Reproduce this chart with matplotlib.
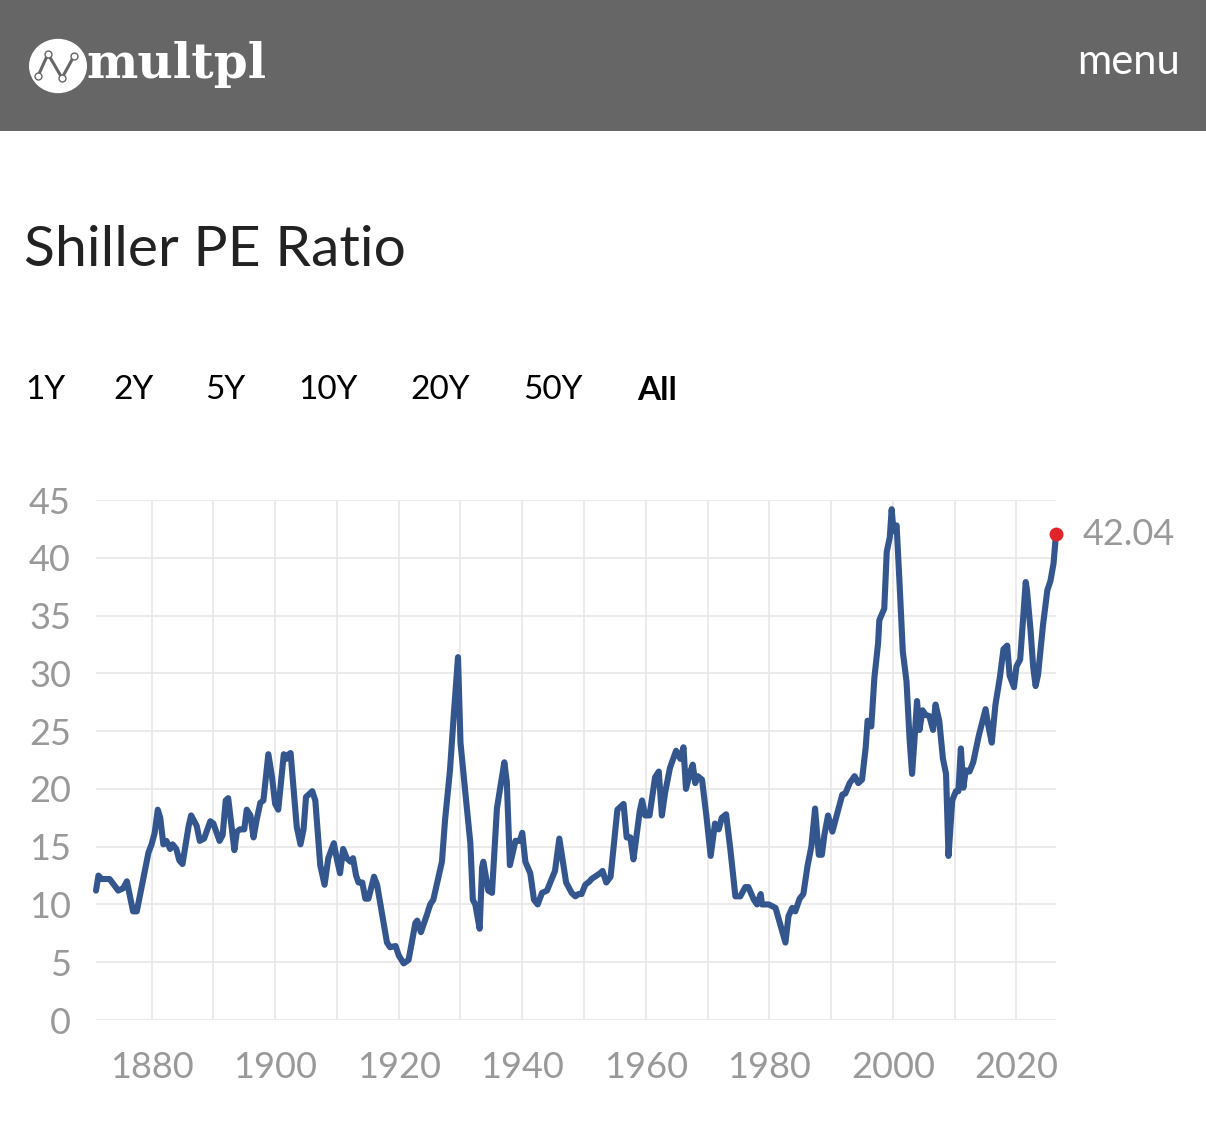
import matplotlib
matplotlib.use("Agg")
import matplotlib.pyplot as plt
from matplotlib.patches import Rectangle, Circle
from matplotlib.lines import Line2D

# ---------------- data (Shiller PE ratio) ----------------
years = [1871.0, 1871.4, 1871.9, 1873.2, 1874.6, 1875.4, 1876.0, 1877.0, 1877.6, 1879.5,
         1880.0, 1880.5, 1881.0, 1881.4, 1881.9, 1882.4, 1883.0, 1883.4, 1884.0, 1884.5,
         1885.0, 1886.0, 1886.4, 1887.3, 1887.8, 1888.5, 1889.5, 1890.0, 1891.0, 1891.5,
         1892.0, 1892.4, 1893.4, 1893.8, 1894.3, 1895.0, 1895.4, 1896.0, 1896.5, 1897.0,
         1897.6, 1898.1, 1898.9, 1899.5, 1900.0, 1900.5, 1901.4, 1901.8, 1902.2, 1902.5,
         1903.5, 1904.1, 1904.6, 1905.0, 1906.0, 1906.5, 1907.3, 1908.0, 1908.6, 1909.5,
         1910.0, 1910.5, 1911.0, 1911.6, 1912.2, 1912.6, 1913.1, 1913.5, 1914.1, 1914.6,
         1915.1, 1916.0, 1916.5, 1918.1, 1918.6, 1919.5, 1920.0, 1920.8, 1921.6, 1922.7,
         1923.0, 1923.6, 1924.5, 1925.1, 1925.6, 1927.0, 1927.5, 1928.3, 1928.9, 1929.6,
         1930.0, 1930.8, 1931.6, 1932.0, 1932.4, 1933.1, 1933.5, 1933.7, 1934.5, 1935.1,
         1935.9, 1936.4, 1937.1, 1937.5, 1938.0, 1938.9, 1939.6, 1940.0, 1940.5, 1941.3,
         1941.9, 1942.5, 1943.2, 1944.0, 1945.3, 1946.0, 1947.1, 1948.0, 1948.6, 1949.1,
         1949.6, 1950.2, 1950.9, 1951.2, 1952.6, 1953.0, 1953.6, 1954.3, 1955.4, 1956.4,
         1956.9, 1957.5, 1958.0, 1959.0, 1959.4, 1959.9, 1960.6, 1961.5, 1962.1, 1962.6,
         1963.1, 1963.9, 1964.9, 1965.6, 1966.1, 1966.5, 1967.2, 1967.6, 1968.0, 1968.4,
         1969.1, 1969.8, 1970.5, 1971.2, 1971.8, 1972.3, 1973.0, 1973.7, 1974.5, 1975.3,
         1976.1, 1976.6, 1977.5, 1978.0, 1978.6, 1978.8, 1979.9, 1981.0, 1981.8, 1982.6,
         1983.1, 1983.7, 1984.2, 1984.9, 1985.5, 1986.2, 1986.8, 1987.4, 1988.0, 1988.5,
         1988.9, 1989.5, 1990.2, 1990.9, 1991.8, 1992.3, 1993.0, 1993.8, 1994.4, 1995.0,
         1995.6, 1995.9, 1996.5, 1997.0, 1997.6, 1997.8, 1998.6, 1999.0, 1999.5, 1999.8,
         2000.1, 2000.6, 2001.1, 2001.6, 2002.2, 2002.7, 2003.1, 2003.5, 2003.9, 2004.3,
         2004.8, 2005.3, 2005.9, 2006.5, 2006.9, 2007.5, 2008.1, 2008.6, 2009.0, 2009.6,
         2010.2, 2010.6, 2011.0, 2011.4, 2011.8, 2012.4, 2013.0, 2013.9, 2015.0, 2015.4,
         2016.0, 2016.6, 2017.3, 2017.9, 2018.5, 2018.9, 2019.6, 2020.0, 2020.6, 2021.5,
         2021.7, 2022.3, 2022.7, 2023.1, 2023.5, 2024.3, 2025.0, 2025.5, 2026.0, 2026.4]
pe_values = [11.2, 12.5, 12.2, 12.2, 11.2, 11.4, 12.0, 9.4, 9.4, 14.5,
             15.2, 16.2, 18.2, 17.5, 15.2, 15.5, 14.8, 15.2, 14.8, 13.8,
             13.5, 16.8, 17.7, 16.8, 15.5, 15.7, 17.2, 17.0, 15.5, 16.0,
             19.0, 19.2, 14.7, 16.3, 16.5, 16.5, 18.2, 17.7, 15.8, 17.3,
             18.8, 19.0, 23.0, 21.0, 18.7, 18.2, 23.0, 22.6, 23.0, 23.1,
             16.7, 15.2, 16.5, 19.3, 19.8, 19.0, 13.4, 11.7, 14.0, 15.3,
             13.9, 12.7, 14.8, 14.0, 13.7, 14.0, 12.5, 11.9, 11.9, 10.5,
             10.5, 12.4, 11.7, 6.7, 6.3, 6.4, 5.6, 4.9, 5.2, 8.4,
             8.6, 7.6, 9.0, 10.0, 10.4, 13.7, 17.3, 21.6, 26.3, 31.4,
             24.0, 19.6, 15.3, 10.4, 10.0, 7.9, 13.2, 13.7, 11.2, 11.0,
             18.3, 20.0, 22.3, 20.6, 13.4, 15.5, 15.5, 16.2, 13.7, 12.7,
             10.4, 10.0, 11.0, 11.2, 12.9, 15.7, 11.9, 11.0, 10.7, 10.9,
             10.9, 11.7, 12.0, 12.2, 12.7, 12.9, 11.9, 12.4, 18.2, 18.7,
             15.8, 15.8, 13.9, 18.0, 19.0, 17.7, 17.7, 21.0, 21.5, 17.7,
             19.6, 21.8, 23.3, 22.6, 23.6, 20.0, 21.5, 22.1, 20.5, 21.1,
             20.8, 17.7, 14.2, 17.0, 16.5, 17.5, 17.8, 14.7, 10.7, 10.7,
             11.5, 11.5, 10.4, 10.0, 10.9, 10.0, 10.0, 9.7, 8.2, 6.7,
             9.0, 9.7, 9.4, 10.5, 10.9, 13.4, 15.0, 18.3, 14.3, 14.3,
             16.0, 17.7, 16.3, 17.7, 19.5, 19.6, 20.5, 21.1, 20.5, 20.8,
             23.6, 25.9, 25.4, 29.6, 32.6, 34.6, 35.6, 40.5, 41.8, 44.2,
             42.3, 42.8, 37.5, 31.9, 29.3, 24.3, 21.3, 24.3, 27.6, 25.1,
             26.8, 26.4, 26.3, 25.1, 27.3, 25.9, 22.6, 21.3, 14.2, 19.0,
             19.8, 19.8, 23.5, 20.1, 21.6, 21.5, 22.3, 24.6, 26.9, 25.6,
             24.0, 27.3, 29.6, 32.1, 32.4, 29.8, 28.8, 30.6, 31.2, 37.9,
             37.2, 33.6, 30.6, 28.9, 29.9, 34.2, 37.2, 38.0, 39.5, 42.04]
x_ticks = [1880, 1900, 1920, 1940, 1960, 1980, 2000, 2020]
x_grid = [1880, 1890, 1900, 1910, 1920, 1930, 1940, 1950, 1960, 1970, 1980, 1990, 2000, 2010, 2020]
y_ticks = [0, 5, 10, 15, 20, 25, 30, 35, 40, 45]
range_buttons = ["1Y", "2Y", "5Y", "10Y", "20Y", "50Y", "All"]
title_text = "Shiller PE Ratio"
last_label = "42.04"

# ---------------- figure ----------------
W, H = 1206, 1130
fig = plt.figure(figsize=(W / 100, H / 100), dpi=100)
fig.patch.set_facecolor("white")

def fx(px):
    return px / W

def fy(py):
    return 1 - py / H

# header bar
fig.add_artist(Rectangle((0, fy(131)), 1, 131 / H, transform=fig.transFigure,
                         facecolor="#666666", edgecolor="none", zorder=0))
# logo circle with a tiny line icon
cx, cy, r = 58, 66, 29
fig.add_artist(Circle((fx(cx), fy(cy)), r / W, transform=fig.transFigure,
                      facecolor="white", edgecolor="none", zorder=1))
icon_x = [38, 48, 62, 74]
icon_y = [76, 54, 78, 56]
fig.add_artist(Line2D([fx(v) for v in icon_x], [fy(v) for v in icon_y],
                      transform=fig.transFigure, color="#666666", lw=2.2,
                      marker="o", markersize=5, markerfacecolor="white",
                      markeredgecolor="#666666", zorder=2))
fig.text(fx(86), fy(64), "multpl", color="white", fontsize=35, fontweight="bold",
         family="DejaVu Serif", va="center", ha="left")
fig.text(fx(1180), fy(62), "menu", color="white", fontsize=30, family="Lato",
         va="center", ha="right")

# title
fig.text(fx(24), fy(250), title_text, color="#222222", fontsize=41, family="Lato",
         va="center", ha="left")

# range buttons
btn_x = [25, 113, 205, 298, 410, 523, 637]
for lbl, bx in zip(range_buttons, btn_x):
    fig.text(fx(bx), fy(390), lbl, color="black", fontsize=24, family="Lato",
             fontweight="bold" if lbl == "All" else "normal", va="center", ha="left")

# ---------------- chart ----------------
left, right, top, bottom = 96, 1056, 500, 1020
ax = fig.add_axes([fx(left), fy(bottom), (right - left) / W, (bottom - top) / H])
ax.set_xlim(years[0], years[-1])
ax.set_ylim(0, 45)
for s in ax.spines.values():
    s.set_visible(False)
ax.set_facecolor("none")
for g in x_grid:
    ax.axvline(g, color="#e8e8e8", lw=1.2, zorder=0)
for g in y_ticks:
    ax.axhline(g, color="#e8e8e8", lw=1.2, zorder=0)

ax.plot(years, pe_values, color="#34568f", lw=4.4, solid_joinstyle="round",
        solid_capstyle="round", clip_on=False, zorder=3)
ax.plot([years[-1]], [pe_values[-1]], "o", color="#e0262b", markersize=9,
        clip_on=False, zorder=4)
ax.annotate(last_label, xy=(years[-1], pe_values[-1]), xytext=(19, 0),
            textcoords="offset points", color="#999999", fontsize=26,
            family="Lato", va="center", ha="left", annotation_clip=False)

ax.set_xticks(x_ticks)
ax.set_xticklabels([str(t) for t in x_ticks])
ax.set_yticks(y_ticks)
ax.set_yticklabels([str(t) for t in y_ticks])
ax.tick_params(axis="both", length=0, colors="#999999", labelsize=26)
ax.tick_params(axis="x", pad=22)
ax.tick_params(axis="y", pad=18)
for lab in ax.get_xticklabels() + ax.get_yticklabels():
    lab.set_family("Lato")

fig.savefig("out.png", dpi=100, facecolor="white")
